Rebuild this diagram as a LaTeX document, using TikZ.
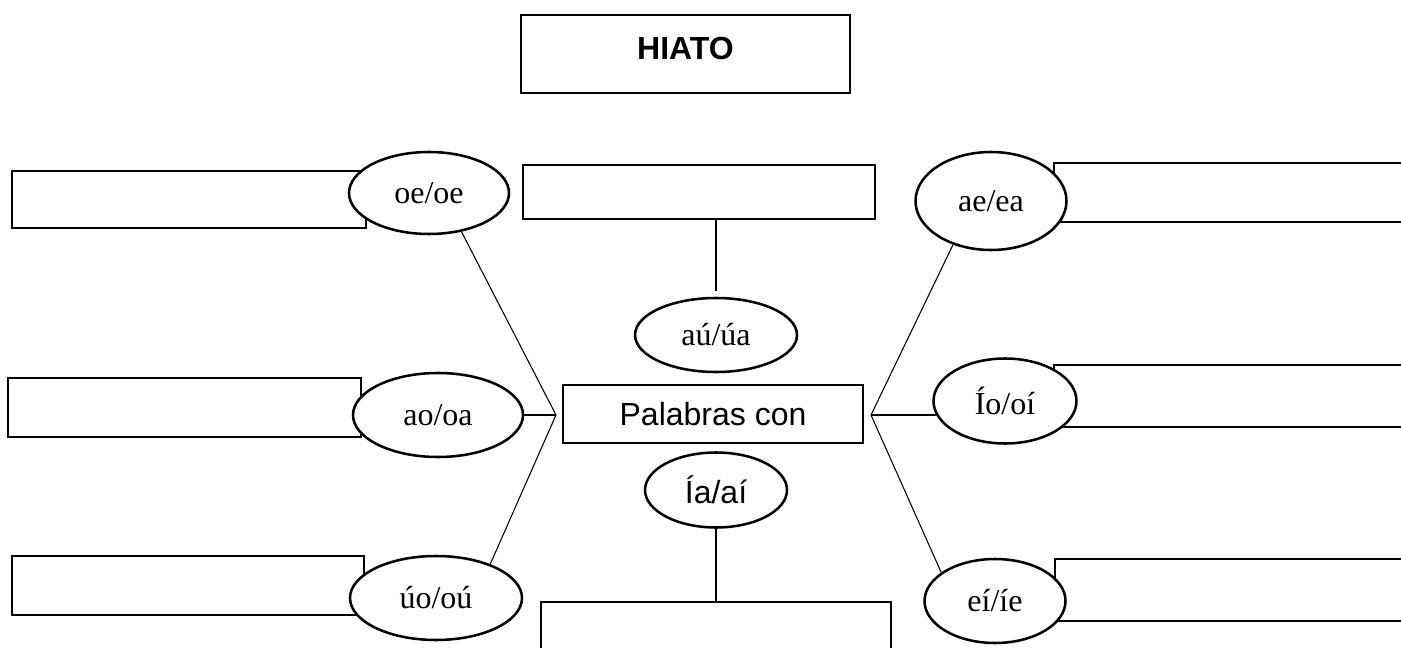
\documentclass[tikz,border=0pt]{standalone}
\usepackage{fontspec}
\setmainfont{Liberation Serif}
\setsansfont{Liberation Sans}
\usetikzlibrary{shapes.geometric}
\tikzset{
    box/.style={draw, line width=1.9pt, inner sep=0pt},
    vowel/.style={ellipse, draw, fill=white, line width=1.9pt, inner sep=0pt,
        font=\fontsize{24}{28}\selectfont},
    link/.style={line width=0.8pt}
}

\begin{document}
\begin{tikzpicture}[x=0.75pt, y=-0.75pt]
    \useasboundingbox (0,0) rectangle (1401,648);
    \clip (0,0) rectangle (1401,648);
    % title
    \node[draw, line width=0.9pt, minimum width=246.75pt, minimum height=58.5pt,
        text depth=9pt, font=\sffamily\bfseries\fontsize{24}{28}\selectfont]
        (hiato) at (685.5,54) {HIATO};
    % boxes
    \node[box, minimum width=265.5pt, minimum height=42.75pt] (L1) at (189,199.5) {};
    \node[box, minimum width=264.75pt, minimum height=44.25pt] (L2) at (184.5,407.5) {};
    \node[box, minimum width=264pt, minimum height=44.25pt] (L3) at (188,585.5) {};
    \node[box, minimum width=264pt, minimum height=40.5pt] (T) at (699,192) {};
    \node[box, minimum width=262.5pt, minimum height=58.5pt] (B) at (716,641) {};
    \node[box, minimum width=282pt, minimum height=44.25pt] (R1) at (1242,192.5) {};
    \node[box, minimum width=282pt, minimum height=46.5pt] (R2) at (1242,396) {};
    \node[box, minimum width=281.25pt, minimum height=46.5pt] (R3) at (1242.5,590) {};
    \node[box, minimum width=225pt, minimum height=43.5pt,
        font=\sffamily\fontsize{24}{28}\selectfont] (pal) at (713,414) {Palabras con};
    % vowel pairs
    \node[vowel, minimum width=120pt, minimum height=61.5pt] (oeoe) at (429,193) {oe/oe};
    \node[vowel, minimum width=127.5pt, minimum height=63pt] (aooa) at (438,415) {ao/oa};
    \node[vowel, minimum width=129pt, minimum height=63pt] (uoou) at (436,598) {úo/oú};
    \node[vowel, minimum width=113.25pt, minimum height=73.5pt] (aeea) at (991,201) {ae/ea};
    \node[vowel, minimum width=107.25pt, minimum height=63.75pt] (iooi) at (1005,401) {Ío/oí};
    \node[vowel, minimum width=105.75pt, minimum height=63pt] (eiie) at (995,601) {eí/íe};
    \node[vowel, minimum width=121.5pt, minimum height=55.5pt] (auua) at (716,335) {aú/úa};
    \node[vowel, minimum width=106.5pt, minimum height=56.25pt,
        font=\sffamily\fontsize{24}{28}\selectfont] (iaai) at (716,490) {Ía/aí};
    % links
    \coordinate (lf) at (556,415);
    \coordinate (rf) at (871,415);
    \draw[link] (oeoe.-50) -- (lf) -- (uoou.32);
    \draw[link] (aooa.east) -- (lf);
    \draw[link] (aeea.-131) -- (rf) -- (eiie.152);
    \draw[link] (rf) -- (rf -| iooi.-168);
    \draw[link, shorten <=4pt] (auua.north) -- (auua.north |- T.south);
    \draw[link] (iaai.south) -- (iaai.south |- B.north);
\end{tikzpicture}
\end{document}
